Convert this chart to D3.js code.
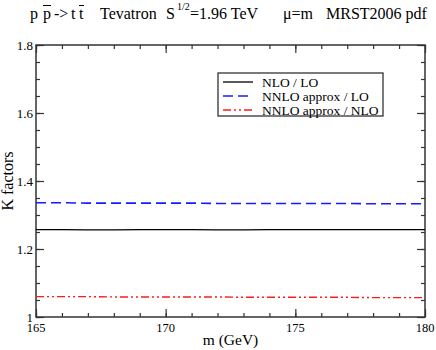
<!DOCTYPE html>
<html>
<head>
<meta charset="utf-8">
<script src="https://cdn.jsdelivr.net/npm/d3@7"></script>
<style>
  body { margin: 0; background: #fff; }
  svg { display: block; font-family: "Liberation Serif", "Times New Roman", serif; }
</style>
</head>
<body>
<svg id="chart" width="436" height="350"></svg>
<script>
// top mass values (GeV)
var masses = [165, 166, 167, 168, 169, 170, 171, 172, 173, 174, 175, 176, 177, 178, 179, 180]
// K factors
var nloLo = [1.257, 1.257, 1.256, 1.256, 1.257, 1.257, 1.257, 1.256, 1.256, 1.257, 1.257, 1.257, 1.257, 1.257, 1.257, 1.257]
var nnloLo = [1.336, 1.336, 1.335, 1.335, 1.335, 1.335, 1.335, 1.334, 1.334, 1.334, 1.334, 1.334, 1.334, 1.333, 1.333, 1.333]
var nnloNlo = [1.060, 1.060, 1.060, 1.059, 1.059, 1.059, 1.059, 1.059, 1.058, 1.058, 1.058, 1.058, 1.058, 1.057, 1.057, 1.057]
var seriesNames = ['NLO / LO', 'NNLO approx / LO', 'NNLO approx / NLO']
var xTicks = [165, 170, 175, 180]
var yTicks = [1, 1.2, 1.4, 1.6, 1.8]

var margin = {top: 45, right: 11, bottom: 33, left: 36},
  W = 436, H = 350,
  w = W - margin.left - margin.right,
  h = H - margin.top - margin.bottom

var svg = d3.select('#chart')
var g = svg.append('g').attr('transform', `translate(${margin.left},${margin.top})`)

var x = d3.scaleLinear().domain([165, 180]).range([0, w])
var y = d3.scaleLinear().domain([1, 1.8]).range([h, 0])

var axisColor = '#333'

// minor + major ticks, pointing inward on all four sides
var xMinor = d3.range(165, 180.01, 1)
var yMinor = d3.range(1, 1.801, 0.05)

function tickAxis(axis, ticks, size) {
  return axis.tickValues(ticks).tickSize(size).tickFormat('')
}

g.append('g').attr('transform', `translate(0,${h})`)
  .call(tickAxis(d3.axisTop(x), xMinor, 4))
g.append('g').attr('transform', `translate(0,${h})`)
  .call(tickAxis(d3.axisTop(x), xTicks, 8))
g.append('g')
  .call(tickAxis(d3.axisBottom(x), xMinor, 4))
g.append('g')
  .call(tickAxis(d3.axisBottom(x), xTicks, 8))
g.append('g')
  .call(tickAxis(d3.axisRight(y), yMinor, 4))
g.append('g')
  .call(tickAxis(d3.axisRight(y), yTicks, 8))
g.append('g').attr('transform', `translate(${w},0)`)
  .call(tickAxis(d3.axisLeft(y), yMinor, 4))
g.append('g').attr('transform', `translate(${w},0)`)
  .call(tickAxis(d3.axisLeft(y), yTicks, 8))

g.selectAll('.domain').remove()
g.selectAll('.tick line').attr('stroke', axisColor).attr('stroke-width', 1.2)

// frame
g.append('rect')
  .attr('x', 0).attr('y', 0).attr('width', w).attr('height', h)
  .attr('fill', 'none').attr('stroke', axisColor).attr('stroke-width', 1.5)

// tick labels
g.selectAll('.xlab').data(xTicks).join('text')
  .attr('class', 'xlab')
  .attr('x', d => x(d)).attr('y', h + 15)
  .attr('text-anchor', 'middle').attr('font-size', 12.5)
  .text(d => d)

g.selectAll('.ylab').data(yTicks).join('text')
  .attr('class', 'ylab')
  .attr('x', -3).attr('y', d => y(d) + 5)
  .attr('text-anchor', 'end').attr('font-size', 13)
  .text(d => d3.format('.1f')(d).replace(/^1\.0$/, '1'))

// axis titles
svg.append('text')
  .attr('x', margin.left + w / 2).attr('y', 345)
  .attr('text-anchor', 'middle').attr('font-size', 15.5)
  .text('m (GeV)')

svg.append('text')
  .attr('transform', `translate(13,${margin.top + h / 2}) rotate(-90)`)
  .attr('text-anchor', 'middle').attr('font-size', 16)
  .text('K factors')

// series
var styles = [
  {data: nloLo, color: '#000', dash: null, width: 1.3},
  {data: nnloLo, color: '#1a1aff', dash: '10,5', width: 1.6},
  {data: nnloNlo, color: '#ff1a1a', dash: '8,3,2,3,2,3', width: 1.4}
]

var line = d3.line().x((d, i) => x(masses[i])).y(d => y(d))

g.selectAll('.series').data(styles).join('path')
  .attr('class', 'series')
  .attr('d', s => line(s.data))
  .attr('fill', 'none')
  .attr('stroke', s => s.color)
  .attr('stroke-width', s => s.width)
  .attr('stroke-dasharray', s => s.dash)

// legend
var lg = svg.append('g').attr('transform', 'translate(218,73)')
lg.append('rect')
  .attr('width', 165).attr('height', 43)
  .attr('fill', '#fff').attr('stroke', axisColor).attr('stroke-width', 1.3)

var rows = lg.selectAll('.row').data(styles).join('g')
  .attr('class', 'row')
  .attr('transform', (d, i) => `translate(0,${9 + i * 14})`)
rows.append('line')
  .attr('x1', 5).attr('x2', 35)
  .attr('stroke', s => s.color)
  .attr('stroke-width', s => s.width)
  .attr('stroke-dasharray', s => s.dash)
rows.append('text')
  .attr('x', 44).attr('y', 4.5)
  .attr('font-size', 13.5)
  .text((d, i) => seriesNames[i])

// header, pieces placed where they sit in the reference
var header = [
  {t: 'p', x: 30},
  {t: 'p', x: 43, bar: true},
  {t: '->', x: 54},
  {t: 't', x: 71},
  {t: 't', x: 79, bar: true},
  {t: 'Tevatron', x: 100},
  {t: 'S', x: 166},
  {t: '1/2', x: 177, sup: true},
  {t: '=1.96 TeV', x: 190},
  {t: 'μ=m', x: 283},
  {t: 'MRST2006 pdf', x: 326}
]

svg.selectAll('.hdr').data(header).join('text')
  .attr('class', 'hdr')
  .attr('x', d => d.x)
  .attr('y', d => d.sup ? 10 : 18.5)
  .attr('font-size', d => d.sup ? 10 : 16)
  .text(d => d.t)
  .each(function(d) {
    if (!d.bar) return
    var bb = this.getBBox()
    svg.append('line')
      .attr('x1', bb.x).attr('x2', bb.x + bb.width)
      .attr('y1', 5.5).attr('y2', 5.5)
      .attr('stroke', '#000').attr('stroke-width', 1)
  })
</script>
</body>
</html>
